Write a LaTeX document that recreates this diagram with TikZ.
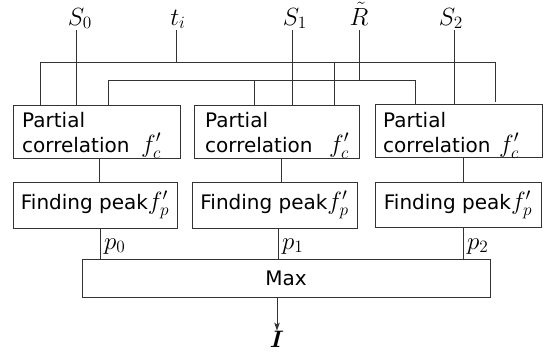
\documentclass[tikz,border=0pt]{standalone}
\usepackage{fontspec}
\setmainfont{DejaVu Sans}
\usepackage{bm}
\usetikzlibrary{arrows.meta}
\newcommand\tx{\fontsize{20}{24}\selectfont}
\newcommand\mth[1]{{\tx\scalebox{1.2}{$#1$}}}
\begin{document}
\begin{tikzpicture}[x=1pt,y=-1pt,
  every node/.style={font=\tx, inner sep=0pt},
  box/.style={draw=black!80, line width=1pt, rectangle},
  wire/.style={draw=black!80, line width=1pt}]
\useasboundingbox (0,0) rectangle (549,356);
% boxes
\node[box, minimum width=167pt, minimum height=53pt] (b0) at (96.5,131.5) {};
\node[box, minimum width=165pt, minimum height=53pt] (b1) at (276.5,131.5) {};
\node[box, minimum width=167pt, minimum height=53pt] (b2) at (458.5,131) {};
\node[box, minimum width=164pt, minimum height=46pt] (f0) at (95,205) {\tx Finding peak\mth{f'_p}};
\node[box, minimum width=165pt, minimum height=46pt] (f1) at (274.5,205) {\tx Finding peak\mth{f'_p}};
\node[box, minimum width=166pt, minimum height=45pt] (f2) at (458,204.5) {\tx Finding peak\mth{f'_p}};
\node[box, minimum width=408pt, minimum height=38pt] (mx) at (286,278) {\tx Max};
% box texts
\node[anchor=base west] (pa0) at (22,127) {\tx Partial};
\node[anchor=base west] (co0) at (22,152) {\tx correlation};
\node[anchor=base west] (fc0) at (141,152) {\mth{f'_c}};
\node[anchor=base west] (pa1) at (205,127) {\tx Partial};
\node[anchor=base west] (co1) at (205,152) {\tx correlation};
\node[anchor=base west] (fc1) at (329,152) {\mth{f'_c}};
\node[anchor=base west] (pa2) at (383,127) {\tx Partial};
\node[anchor=base west] (co2) at (383,152) {\tx correlation};
\node[anchor=base west] (fc2) at (499,152) {\mth{f'_c}};
% input labels
\node[anchor=base] (S0) at (80,25) {\mth{S_0}};
\node[anchor=base] (ti) at (178,25) {\mth{t_i}};
\node[anchor=base] (S1) at (295,25) {\mth{S_1}};
\node[anchor=base] (R) at (359,25) {\mth{\tilde{R}}};
\node[anchor=base] (S2) at (451,25) {\mth{S_2}};
% junction coordinates
\coordinate (tL) at (40,62);
\coordinate (tM) at (176,62);
\coordinate (tC) at (334,62);
\coordinate (tR) at (495,62);
\coordinate (tE) at (495,102);
\coordinate (rL) at (108,80.5);
\coordinate (rC) at (254,80.5);
\coordinate (rM) at (359,80.5);
\coordinate (rR) at (415,80.5);
% wires from inputs
\draw[wire] (76,30) -- (b0.north -| 76,0);
\draw[wire] (176,30) -- (tM);
\draw[wire] (292,30) -- (b1.north -| 292,0);
\draw[wire] (359,30) -- (rM);
\draw[wire] (454,30) -- (b2.north -| 454,0);
% t_i distribution
\draw[wire] (b0.north -| tL) -- (tL) -- (tR) -- (tE);
\draw[wire] (tC) -- (b1.north -| tC);
% R distribution
\draw[wire] (b0.north -| rL) -- (rL) -- (rR) -- (b2.north -| rR);
\draw[wire] (rC) -- (b1.north -| rC);
% box to finding peak
\draw[wire] (b0.south -| 99,0) -- (f0.north -| 99,0);
\draw[wire] (b1.south -| 281,0) -- (f1.north -| 281,0);
\draw[wire] (b2.south -| 463,0) -- (f2.north -| 463,0);
% finding peak to max
\draw[wire] (f0.south -| 100,0) -- (mx.north -| 100,0);
\draw[wire] (f1.south -| 278,0) -- (mx.north -| 278,0);
\draw[wire] (f2.south -| 463,0) -- (mx.north -| 463,0);
\node[anchor=base west] (p0) at (104,249) {\mth{p_0}};
\node[anchor=base west] (p1) at (282,249) {\mth{p_1}};
\node[anchor=base west] (p2) at (467,249) {\mth{p_2}};
% output
\node (I) at (277,339) {{\tx\scalebox{1.15}{$\bm{I}$}}};
\draw[wire, -{Stealth[length=8pt,width=5.5pt,inset=2pt]}] (mx.south -| I) -- (I.north);
\end{tikzpicture}
\end{document}
